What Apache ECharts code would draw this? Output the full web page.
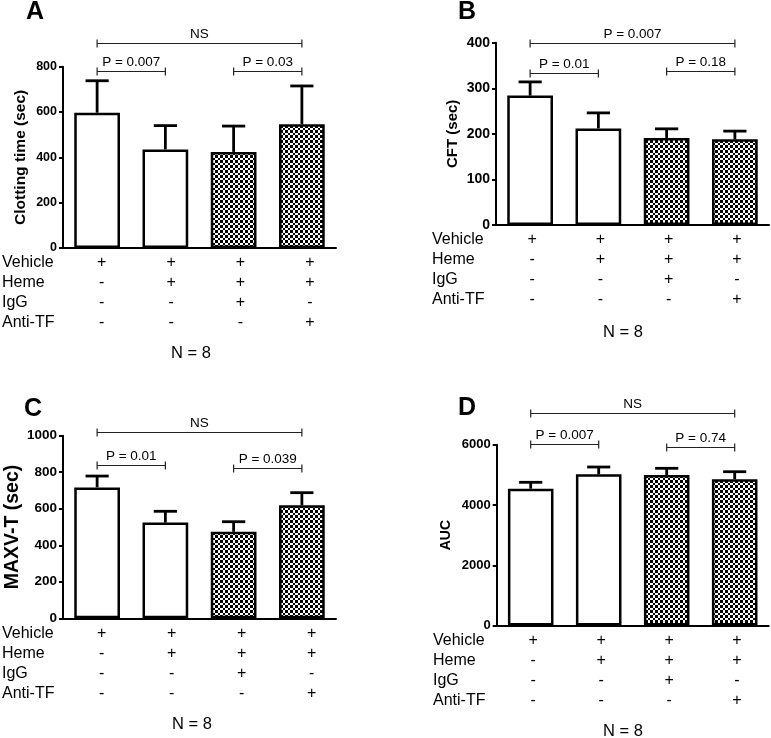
<!DOCTYPE html>
<html><head><meta charset="utf-8">
<script src="https://cdn.jsdelivr.net/npm/echarts/dist/echarts.min.js"></script>
<style>html,body{margin:0;padding:0;background:#fff}#c{width:771px;height:738px}</style>
</head><body><div id="c"></div>
<script>
// ---- data ----
const groups = ['Vehicle', 'Heme', 'Heme+IgG', 'Heme+Anti-TF'];
const fillKind = ['open', 'open', 'checked', 'checked'];

const clotMean = [597, 435, 424, 546];
const clotErr  = [141, 105, 114, 169];
const cftMean  = [284, 212, 191, 188];
const cftErr   = [30, 34, 20, 18];
const maxvMean = [717, 524, 474, 619];
const maxvErr  = [62, 62, 55, 69];
const aucMean  = [4541, 5018, 4995, 4852];
const aucErr   = [212, 242, 222, 252];

// brackets: [fromIndex, toIndex, yValue, label]
const clotBrackets = [[0, 3, 904, 'NS'], [0, 1, 782, 'P = 0.007'], [2, 3, 782, 'P = 0.03']];
const cftBrackets  = [[0, 3, 400, 'P = 0.007'], [0, 1, 333, 'P = 0.01'], [2, 3, 339, 'P = 0.18']];
const maxvBrackets = [[0, 3, 1019, 'NS'], [0, 1, 841, 'P = 0.01'], [2, 3, 823, 'P = 0.039']];
const aucBrackets  = [[0, 3, 7042, 'NS'], [0, 1, 6023, 'P = 0.007'], [2, 3, 5914, 'P = 0.74']];

const rowNames   = ['Vehicle', 'Heme', 'IgG', 'Anti-TF'];
const vehicleRow = ['+', '+', '+', '+'];
const hemeRow    = ['-', '+', '+', '+'];
const iggRow     = ['-', '-', '+', '-'];
const antiTfRow  = ['-', '-', '-', '+'];
const tableRows  = [vehicleRow, hemeRow, iggRow, antiTfRow];
const nText = 'N = 8';

// ---- layout / style ----
const FONT = '"Liberation Sans", Arial, Helvetica, sans-serif';
function checker() {
  const c = document.createElement('canvas');
  c.width = 10; c.height = 10;
  const g = c.getContext('2d');
  g.fillStyle = '#fff'; g.fillRect(0, 0, 10, 10);
  g.fillStyle = '#000';
  const e = [0, 3, 5, 8, 10];
  for (let i = 0; i < 4; i++) for (let j = 0; j < 4; j++)
    if ((i + j) % 2 === 0) g.fillRect(e[i], e[j], e[i + 1] - e[i], e[j + 1] - e[j]);
  return c;
}
const pattern = { image: checker(), repeat: 'repeat' };

const panels = [
  { letter: 'A', name: 'Clotting time (sec)', mean: clotMean, err: clotErr, br: clotBrackets,
    max: 800, interval: 200, g: [63, 66.7, 273, 181.3], t: [67, 277.6],
    nameSize: 15.5, nameGap: 34, tickSize: 12.5, letterPos: [26, 12], rowX: 2, nPos: [191, 353] },
  { letter: 'B', name: 'CFT (sec)', mean: cftMean, err: cftErr, br: cftBrackets,
    max: 400, interval: 100, g: [496, 42.7, 273, 182.3], t: [498, 279.6],
    nameSize: 15, nameGap: 36, tickSize: 14, letterPos: [458, 12], rowX: 432, nPos: [623, 332] },
  { letter: 'C', name: 'MAXV-T (sec)', mean: maxvMean, err: maxvErr, br: maxvBrackets,
    max: 1000, interval: 200, g: [63, 435.7, 273, 182.6], t: [66.7, 280],
    nameSize: 19.5, nameGap: 36, tickSize: 13.5, letterPos: [24, 409.5], rowX: 2, nPos: [192, 724] },
  { letter: 'D', name: 'AUC', mean: aucMean, err: aucErr, br: aucBrackets,
    max: 6000, interval: 2000, g: [496.7, 444.7, 272, 180.9], t: [499.3, 277.3],
    nameSize: 14, nameGap: 44, tickSize: 13, letterPos: [458, 408.5], rowX: 433, nPos: [623, 731] }
];

const option = { animation: false, backgroundColor: '#fff', grid: [], xAxis: [], yAxis: [], series: [], graphic: [] };

panels.forEach((p, k) => {
  const mi = 2 * k, ti = 2 * k + 1;
  const zeroY = p.g[1] + p.g[3];
  option.grid.push({ left: p.g[0], top: p.g[1], width: p.g[2], height: p.g[3] });
  option.grid.push({ left: p.t[0], top: zeroY - 1, width: p.t[1], height: 1 });

  option.xAxis.push({
    gridIndex: mi, type: 'category', data: groups,
    axisLine: { lineStyle: { color: '#000', width: 2 } },
    axisTick: { show: false }, axisLabel: { show: false }
  });
  option.xAxis.push({
    gridIndex: ti, type: 'category', data: groups,
    axisLine: { show: false }, axisTick: { show: false },
    axisLabel: { interval: 0, margin: 5, fontSize: 16, lineHeight: 20, color: '#000', fontFamily: FONT,
      formatter: (v, i) => tableRows.map(r => r[i]).join('\n') }
  });
  option.yAxis.push({
    gridIndex: mi, type: 'value', min: 0, max: p.max, interval: p.interval,
    name: p.name, nameLocation: 'middle', nameGap: p.nameGap,
    nameTextStyle: { fontFamily: FONT, fontWeight: 'bold', fontSize: p.nameSize, color: '#000' },
    axisLine: { show: true, lineStyle: { color: '#000', width: 2 } },
    axisTick: { show: true, length: 4, lineStyle: { color: '#000', width: 2 } },
    axisLabel: { fontFamily: FONT, fontWeight: 'bold', fontSize: p.tickSize, color: '#000', margin: 6,
      formatter: v => String(v) },
    splitLine: { show: false }
  });
  option.yAxis.push({ gridIndex: ti, type: 'value', show: false });

  option.series.push({
    type: 'bar', xAxisIndex: mi, yAxisIndex: mi, barWidth: '67%',
    itemStyle: { borderColor: '#000', borderWidth: 2.5 },
    data: p.mean.map((v, i) => ({ value: v, itemStyle: { color: fillKind[i] === 'checked' ? pattern : '#fff' } }))
  });
  option.series.push({
    type: 'custom', xAxisIndex: mi, yAxisIndex: mi, z: 5, clip: false,
    data: p.mean.map((v, i) => [i, v, v + p.err[i]]),
    encode: { x: 0, y: [1, 2] },
    renderItem: (params, api) => {
      const x = api.value(0);
      const a = api.coord([x, api.value(1)]);
      const b = api.coord([x, api.value(2)]);
      const w = api.size([1, 0])[0] * 0.34;
      return { type: 'group', children: [
        { type: 'line', shape: { x1: a[0], y1: a[1], x2: b[0], y2: b[1] }, style: { stroke: '#000', lineWidth: 2.8 } },
        { type: 'line', shape: { x1: b[0] - w / 2, y1: b[1], x2: b[0] + w / 2, y2: b[1] }, style: { stroke: '#000', lineWidth: 2.8 } }
      ] };
    }
  });
  option.series.push({
    type: 'custom', xAxisIndex: mi, yAxisIndex: mi, z: 6, clip: false,
    data: p.br.map(b => [b[0], b[2], b[1]]),
    encode: { x: 0, y: 1 },
    renderItem: (params, api) => {
      const a = api.coord([api.value(0), api.value(1)]);
      const b = api.coord([api.value(2), api.value(1)]);
      const y = Math.round(a[1]) + 0.5;
      const lbl = p.br[params.dataIndex][3];
      const st = { stroke: '#222', lineWidth: 1.2 };
      return { type: 'group', children: [
        { type: 'line', shape: { x1: a[0], y1: y, x2: b[0], y2: y }, style: st },
        { type: 'line', shape: { x1: a[0], y1: y - 4, x2: a[0], y2: y + 4 }, style: st },
        { type: 'line', shape: { x1: b[0], y1: y - 4, x2: b[0], y2: y + 4 }, style: st },
        { type: 'text', x: (a[0] + b[0]) / 2, y: y - 2,
          style: { text: lbl, fill: '#000', font: '13.5px ' + FONT, textAlign: 'center', textVerticalAlign: 'bottom' } }
      ] };
    }
  });

  option.graphic.push({ type: 'text', x: p.letterPos[0], y: p.letterPos[1],
    style: { text: p.letter, fill: '#000', font: 'bold 25px ' + FONT, textVerticalAlign: 'middle' } });
  rowNames.forEach((r, j) => {
    option.graphic.push({ type: 'text', x: p.rowX, y: zeroY + 15 + 20 * j,
      style: { text: r, fill: '#000', font: '16px ' + FONT, textVerticalAlign: 'middle' } });
  });
  option.graphic.push({ type: 'text', x: p.nPos[0], y: p.nPos[1],
    style: { text: nText, fill: '#000', font: '16.5px ' + FONT, textAlign: 'center', textVerticalAlign: 'middle' } });
});

const chart = echarts.init(document.getElementById('c'), null, { renderer: 'canvas' });
chart.setOption(option);
</script></body></html>
